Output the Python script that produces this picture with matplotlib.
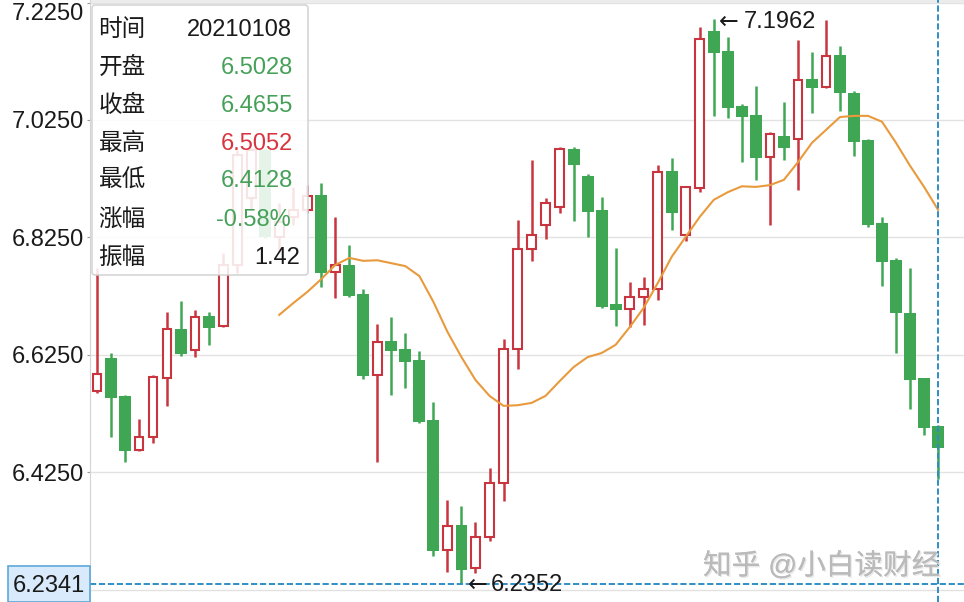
import matplotlib
matplotlib.use('Agg')
import matplotlib.pyplot as plt
import matplotlib.patheffects as pe
from matplotlib.patches import Rectangle, FancyBboxPatch
from matplotlib.transforms import Affine2D
import numpy as np

plt.rcParams['font.family'] = ['Liberation Sans', 'Noto Sans CJK SC', 'DejaVu Sans']

# daily candles, index 0 is the leftmost one
opens = [6.563, 6.620, 6.555, 6.463, 6.485, 6.585, 6.669, 6.633, 6.691, 6.674,
         6.778, 6.892, 6.974, 6.826, 6.860, 6.872, 6.897, 6.766, 6.778, 6.729,
         6.590, 6.648, 6.635, 6.616, 6.514, 6.292, 6.335, 6.262, 6.315, 6.407,
         6.635, 6.805, 6.846, 6.877, 6.976, 6.930, 6.872, 6.711, 6.703, 6.723,
         6.737, 6.938, 6.829, 6.909, 7.177, 7.142, 7.049, 7.033, 6.962, 6.998,
         6.993, 7.095, 7.081, 7.136, 7.071, 6.991, 6.849, 6.786, 6.696, 6.585,
         6.5028]
closes = [6.593, 6.551, 6.461, 6.485, 6.587, 6.669, 6.626, 6.689, 6.671, 6.778,
          6.965, 6.974, 6.826, 6.851, 6.872, 6.895, 6.764, 6.778, 6.725, 6.589,
          6.647, 6.631, 6.613, 6.510, 6.291, 6.333, 6.258, 6.315, 6.407, 6.635,
          6.805, 6.829, 6.883, 6.976, 6.948, 6.868, 6.706, 6.701, 6.723, 6.737,
          6.936, 6.867, 6.911, 7.163, 7.139, 7.045, 7.030, 6.960, 7.001, 6.977,
          7.093, 7.079, 7.134, 7.071, 6.987, 6.846, 6.783, 6.696, 6.582, 6.500,
          6.4655]
highs = [6.773, 6.628, 6.556, 6.516, 6.591, 6.698, 6.717, 6.701, 6.698, 6.798,
         6.974, 6.977, 6.977, 6.884, 6.911, 6.914, 6.918, 6.860, 6.812, 6.737,
         6.677, 6.689, 6.662, 6.631, 6.545, 6.378, 6.367, 6.340, 6.432, 6.652,
         6.855, 6.957, 6.892, 6.979, 6.979, 6.933, 6.894, 6.807, 6.749, 6.757,
         6.948, 6.960, 6.911, 7.183, 7.1962, 7.166, 7.052, 7.083, 7.005, 7.056,
         7.161, 7.141, 7.195, 7.151, 7.074, 6.993, 6.860, 6.790, 6.773, 6.585,
         6.5052]
lows = [6.560, 6.485, 6.442, 6.461, 6.475, 6.538, 6.623, 6.621, 6.642, 6.672,
        6.764, 6.872, 6.824, 6.800, 6.846, 6.867, 6.740, 6.722, 6.723, 6.584,
        6.442, 6.556, 6.568, 6.509, 6.282, 6.255, 6.2352, 6.253, 6.308, 6.376,
        6.601, 6.785, 6.822, 6.867, 6.853, 6.826, 6.705, 6.674, 6.672, 6.676,
        6.718, 6.838, 6.819, 6.902, 7.032, 7.028, 6.953, 6.923, 6.846, 6.957,
        6.906, 7.037, 7.079, 7.040, 6.964, 6.843, 6.742, 6.628, 6.533, 6.488,
        6.4128]

# moving average, starts at candle 13
ma_start = 13
ma_values = [6.693, 6.713, 6.732, 6.754, 6.778, 6.790, 6.785, 6.786, 6.781, 6.776,
             6.759, 6.715, 6.664, 6.621, 6.582, 6.555, 6.538, 6.539, 6.543, 6.555,
             6.580, 6.604, 6.621, 6.628, 6.642, 6.672, 6.705, 6.747, 6.792, 6.826,
             6.860, 6.889, 6.902, 6.912, 6.911, 6.914, 6.923, 6.953, 6.986, 7.008,
             7.030, 7.032, 7.032, 7.022, 6.986, 6.947, 6.911, 6.872]

y_ticks = [6.225, 6.425, 6.625, 6.825, 7.025, 7.225]
# 6.2250 sits behind the crosshair price box in the reference, so no label there
y_labels = ['', '6.4250', '6.6250', '6.8250', '7.0250', '7.2250']
cross_price = 6.2341

tip_names = ['时间', '开盘', '收盘', '最高', '最低', '涨幅', '振幅']
tip_values = ['20210108', '6.5028', '6.4655', '6.5052', '6.4128', '-0.58%', '1.42']

RED = '#c9353f'
GREEN = '#3fa654'
ORANGE = '#e89a3c'
BLUE = '#2f8ec4'
TIP_GREEN = '#45a058'
GRID = '#e2e2e2'
INK = '#1a1a1a'

opens = np.array(opens)
closes = np.array(closes)
highs = np.array(highs)
lows = np.array(lows)
xs = np.arange(len(opens))
up = closes > opens

fig = plt.figure(figsize=(9.64, 6.02), dpi=100)
ax = fig.add_axes([90 / 964, 0, 874 / 964, 1])
ax.set_xlim(-0.5, 61.85)
ax.set_ylim(6.2038, 7.2294)

for s in ['top', 'right', 'bottom']:
    ax.spines[s].set_visible(False)
ax.spines['left'].set_color('#d4d4d4')
ax.set_xticks([])
ax.set_yticks(y_ticks)
ax.set_yticklabels(y_labels, fontsize=17, color=INK)
ax.tick_params(axis='y', length=2, width=0.8, color='#999999', pad=2)
ax.get_yticklabels()[-1].set_va('top')
ax.grid(axis='y', color=GRID, linewidth=1)
ax.set_axisbelow(True)
ax.axhspan(7.225, 7.2294, color='#ececec', lw=0)

# wicks first, bodies on top of them
ax.vlines(xs[up], lows[up], highs[up], color=RED, linewidth=1.8, zorder=2)
ax.vlines(xs[~up], lows[~up], highs[~up], color=GREEN, linewidth=1.8, zorder=2)
ax.bar(xs[up], closes[up] - opens[up], bottom=opens[up], width=0.62,
       facecolor='white', edgecolor=RED, linewidth=1.5, zorder=3)
ax.bar(xs[~up], closes[~up] - opens[~up], bottom=opens[~up], width=0.85,
       color=GREEN, linewidth=0, zorder=3)

ax.plot(xs[ma_start:], ma_values, color=ORANGE, linewidth=1.5, zorder=4)

# crosshair
dash = (0, (3.2, 1.4))
ax.axvline(xs[-1], color=BLUE, linewidth=1.4, linestyle=dash, zorder=5)
ax.axhline(cross_price, color=BLUE, linewidth=1.4, linestyle=dash, zorder=5)

# high and low markers, the arrow glyph is wider in DejaVu
i_hi = int(np.argmax(highs))
i_lo = int(np.argmin(lows))
ax.annotate('←', xy=(i_hi, highs[i_hi]), xytext=(4, -1.5), textcoords='offset points',
            fontsize=17, color=INK, va='center', family='DejaVu Sans', zorder=6)
ax.annotate(f'{highs[i_hi]:.4f}', xy=(i_hi, highs[i_hi]), xytext=(21.5, -1.5),
            textcoords='offset points', fontsize=17, color=INK, va='center', zorder=6)
ax.annotate('←', xy=(i_lo, lows[i_lo]), xytext=(4.5, -1), textcoords='offset points',
            fontsize=17, color=INK, va='center', family='DejaVu Sans', zorder=6)
ax.annotate(f'{lows[i_lo]:.4f}', xy=(i_lo, lows[i_lo]), xytext=(21, -1),
            textcoords='offset points', fontsize=17, color=INK, va='center', zorder=6)

# everything below is placed in image pixels
px = Affine2D().scale(1 / 964, -1 / 602).translate(0, 1) + fig.transFigure

fig.add_artist(FancyBboxPatch((92, 5), 216, 270, boxstyle='round,pad=0,rounding_size=3',
                              transform=px, facecolor='white', alpha=0.87,
                              edgecolor='#d0d0d0', linewidth=1.2, zorder=10))

row_y = [29.5, 67.5, 105.5, 143.5, 181, 219.5, 257.5]
value_colors = [INK, TIP_GREEN, TIP_GREEN, '#d8343f', TIP_GREEN, TIP_GREEN, INK]
value_right = [292, 293, 293, 293, 293, 291, 300]
for name, val, y, c, r in zip(tip_names, tip_values, row_y, value_colors, value_right):
    fig.text(98.5, y, name, transform=px, fontsize=17, color=INK,
             ha='left', va='center', zorder=11)
    fig.text(r, y, val, transform=px, fontsize=17, color=c,
             ha='right', va='center', zorder=11)

# price box on the axis
fig.add_artist(Rectangle((8, 566), 82, 36, transform=px, facecolor='#d8eafb',
                         edgecolor='#5ea8d8', linewidth=1.2, zorder=10))
fig.text(12.5, 586, f'{cross_price:.4f}', transform=px, fontsize=17, color=INK,
         ha='left', va='center', zorder=11)

# watermark
fig.text(703, 566, '知乎 @小白读财经', transform=px, fontsize=20.6, color='#bababa',
         ha='left', va='center', zorder=9,
         path_effects=[pe.withSimplePatchShadow(offset=(1, -1), shadow_rgbFace='#e8e8e8', alpha=1),
                       pe.Normal()])

fig.savefig('out.png', dpi=100)
